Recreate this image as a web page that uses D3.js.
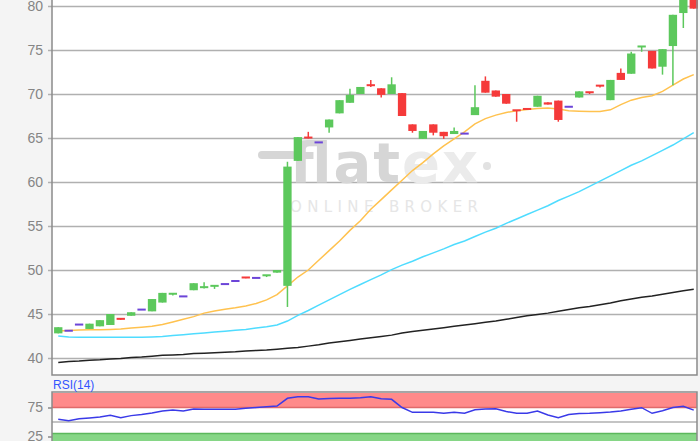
<!DOCTYPE html>
<html>
<head>
<meta charset="utf-8">
<script src="https://cdn.jsdelivr.net/npm/d3@7"></script>
<style>
  body { margin: 0; background: #f4f4f4; }
  svg { display: block; }
</style>
</head>
<body>
<div id="chart"></div>
<script>
// daily candles
const opens = [42.8, 43.1, 43.8, 43.3, 43.6, 43.75, 44.45, 44.8, 45.5, 45.3, 46.3, 47.1, 47.0, 47.7, 47.9, 48.0, 48.4, 48.75, 49.15, 49.1,
  49.2, 49.7, 48.2, 62.4, 65.05, 64.5, 66.2, 67.8, 69.0, 70.0, 71.0, 70.65, 70.0, 70.1, 66.55, 64.9, 66.55, 65.7, 65.45, 65.5,
  67.6, 71.5, 70.4, 70.0, 68.15, 68.3, 68.55, 69.05, 69.25, 68.55, 69.6, 70.2, 70.95, 69.3, 72.4, 72.3, 75.3, 74.9, 73.1, 75.45,
  79.2, 81.5]
const closes = [43.5, 43.1, 43.8, 43.9, 44.3, 45.0, 44.35, 45.2, 45.5, 46.7, 47.4, 47.3, 47.0, 48.5, 48.05, 48.2, 48.4, 48.75, 49.05, 49.1,
  49.4, 50.0, 61.75, 65.1, 64.95, 64.5, 67.1, 69.3, 69.9, 70.8, 70.8, 69.9, 71.1, 67.5, 65.8, 65.8, 65.6, 65.2, 65.8, 65.5,
  68.5, 70.15, 69.7, 68.9, 68.05, 68.2, 69.8, 68.8, 67.05, 68.55, 70.3, 70.0, 70.75, 71.6, 71.6, 74.6, 75.4, 72.9, 75.1, 79.0,
  82.0, 79.7]
const highs = [43.5, 43.1, 43.8, 43.9, 44.3, 45.0, 44.45, 45.2, 45.5, 46.7, 47.4, 47.3, 47.0, 48.5, 48.6, 48.2, 48.4, 48.75, 49.15, 49.1,
  49.4, 50.0, 62.3, 65.1, 65.7, 64.5, 67.1, 69.3, 70.6, 70.8, 71.6, 70.65, 71.9, 70.1, 66.55, 65.8, 66.55, 65.7, 66.2, 65.5,
  71.0, 72.0, 70.4, 70.0, 68.15, 68.3, 69.8, 69.05, 69.25, 68.55, 70.3, 70.2, 70.95, 71.6, 72.9, 74.8, 75.4, 74.9, 75.1, 79.0,
  82.5, 81.5]
const lows = [42.8, 43.1, 43.8, 43.3, 43.6, 43.75, 44.35, 44.8, 45.5, 45.3, 46.3, 47.1, 47.0, 47.7, 47.9, 47.85, 48.4, 48.75, 49.05, 49.1,
  49.2, 49.7, 45.8, 62.4, 64.95, 64.5, 65.6, 67.8, 69.0, 70.0, 70.8, 69.6, 70.0, 67.5, 65.6, 64.9, 65.3, 64.9, 65.45, 65.5,
  67.6, 70.15, 69.7, 68.9, 66.85, 68.2, 68.55, 68.8, 66.85, 68.55, 69.6, 70.0, 70.75, 69.3, 71.6, 72.3, 74.8, 72.9, 72.2, 71.0,
  77.5, 79.7]

// moving averages
const maShort = [43.07, 43.12, 43.18, 43.2, 43.22, 43.25, 43.3, 43.4, 43.5, 43.6, 43.8, 44.1, 44.4, 44.7, 45.1, 45.35, 45.55, 45.7, 45.9, 46.2,
  46.6, 47.2, 48.2, 49.2, 50.0, 51.1, 52.2, 53.3, 54.5, 55.6, 56.9, 58.0, 59.1, 60.2, 61.3, 62.2, 63.2, 64.1, 64.9, 65.7,
  66.6, 67.2, 67.6, 67.9, 68.1, 68.25, 68.35, 68.4, 68.3, 68.1, 68.05, 68.0, 68.0, 68.2, 68.8, 69.3, 69.6, 69.8, 70.3, 71.0,
  71.7, 72.2]
const maMid = [42.5, 42.4, 42.35, 42.35, 42.35, 42.35, 42.35, 42.35, 42.35, 42.4, 42.45, 42.55, 42.65, 42.75, 42.85, 42.95, 43.05, 43.15, 43.25, 43.4,
  43.55, 43.75, 44.2, 44.85, 45.4, 46.0, 46.6, 47.2, 47.8, 48.35, 48.9, 49.45, 50.05, 50.55, 51.0, 51.5, 51.95, 52.4, 52.9, 53.3,
  53.8, 54.3, 54.75, 55.3, 55.8, 56.3, 56.8, 57.3, 57.9, 58.4, 58.9, 59.5, 60.1, 60.7, 61.3, 61.9, 62.4, 63.0, 63.6, 64.2,
  64.9, 65.6]
const maLong = [39.5, 39.6, 39.65, 39.75, 39.8, 39.9, 39.95, 40.05, 40.1, 40.2, 40.3, 40.35, 40.4, 40.5, 40.55, 40.6, 40.65, 40.7, 40.8, 40.85,
  40.9, 41.0, 41.1, 41.2, 41.35, 41.5, 41.7, 41.85, 42.0, 42.15, 42.3, 42.45, 42.6, 42.85, 43.0, 43.15, 43.3, 43.45, 43.6, 43.75,
  43.9, 44.05, 44.2, 44.4, 44.6, 44.8, 44.95, 45.1, 45.3, 45.5, 45.7, 45.85, 46.05, 46.25, 46.5, 46.7, 46.9, 47.05, 47.25, 47.45,
  47.65, 47.8]

const rsi = [54.7, 52.2, 55.5, 57.0, 58.5, 61.5, 57.4, 61.0, 63.0, 65.5, 69.0, 70.7, 69.0, 72.4, 72.0, 71.9, 71.9, 72.0, 73.5, 75.0,
  76.5, 77.6, 90.9, 93.4, 93.6, 89.5, 90.7, 90.9, 90.9, 92.0, 93.6, 90.0, 89.1, 75.0, 66.7, 66.7, 66.7, 65.0, 66.7, 65.0,
  71.0, 72.4, 73.0, 68.0, 65.0, 65.0, 69.0, 62.0, 57.4, 63.0, 64.5, 65.0, 66.0, 67.2, 69.0, 72.0, 74.7, 65.0, 69.5, 75.0,
  77.0, 70.5]

const priceTicks = [40, 45, 50, 55, 60, 65, 70, 75, 80]
const rsiTicks = [75, 25]
const rsiHigh = [75, 100]
const rsiLow = [0, 30]

const width = 700
const height = 441
const left = 52
const right = 697
const mainBottom = 375
const rsiTop = 392

const svg = d3.select('#chart').append('svg').attr('width', width).attr('height', height)

svg.append('rect').attr('width', width).attr('height', height).attr('fill', '#f4f4f4')
svg.append('rect').attr('x', left).attr('y', 0).attr('width', right - left).attr('height', mainBottom).attr('fill', '#fff')
svg.append('rect').attr('x', left).attr('y', rsiTop).attr('width', right - left).attr('height', height - rsiTop).attr('fill', '#fff')

const x = d3.scaleBand()
  .domain(d3.range(opens.length))
  .range([left, 700])
  .padding(0.2)
const cx = i => x(i) + x.bandwidth() / 2

const y = d3.scaleLinear().domain([40, 80]).range([358, 6])

// grid + labels
const yAxis = svg.append('g')
  .attr('transform', `translate(${left - 4},0)`)
  .call(d3.axisLeft(y).tickValues(priceTicks).tickSize(-(right - left + 4)).tickPadding(5))
yAxis.select('.domain').remove()
yAxis.selectAll('line').attr('stroke', '#b0b0b0').attr('stroke-width', 1.5)
yAxis.selectAll('text')
  .attr('fill', '#858585')
  .style('font', '14px "Liberation Sans", Arial, sans-serif')

// watermark
const wm = svg.append('g').attr('pointer-events', 'none')
wm.append('rect').attr('x', 258).attr('y', 151).attr('width', 38).attr('height', 8).attr('rx', 4).attr('fill', '#d6d6d6')
const logo = wm.append('text')
  .attr('x', 290).attr('y', 182)
  .attr('textLength', 188).attr('lengthAdjust', 'spacing')
  .style('font', 'bold 56px "DejaVu Sans", sans-serif')
logo.append('tspan').attr('fill', '#d6d6d6').text('flat')
logo.append('tspan').attr('fill', '#ebebeb').text('ex')
wm.append('circle').attr('cx', 487).attr('cy', 166).attr('r', 4).attr('fill', '#e2e2e2')
wm.append('text')
  .attr('x', 290).attr('y', 212)
  .attr('textLength', 188).attr('lengthAdjust', 'spacing')
  .attr('fill', '#e6e6e6')
  .style('font', '15px "DejaVu Sans", sans-serif')
  .text('ONLINE BROKER')

// moving averages
const maLine = d3.line().x((d, i) => cx(i)).y(d => y(d))
svg.append('path').datum(maLong).attr('d', maLine).attr('fill', 'none').attr('stroke', '#222').attr('stroke-width', 1.5)
svg.append('path').datum(maMid).attr('d', maLine).attr('fill', 'none').attr('stroke', '#4fdcff').attr('stroke-width', 1.5)
svg.append('path').datum(maShort).attr('d', maLine).attr('fill', 'none').attr('stroke', '#ffc24f').attr('stroke-width', 1.5)

// candles
const candles = opens.map((o, i) => ({ i: i, o: o, c: closes[i], h: highs[i], l: lows[i] }))
const colorOf = d => d.c > d.o ? '#5cc85c' : d.c < d.o ? '#f53a3a' : '#6c45d8'

const cg = svg.append('g').selectAll('g').data(candles).join('g')
cg.append('line')
  .attr('x1', d => cx(d.i)).attr('x2', d => cx(d.i))
  .attr('y1', d => y(d.h)).attr('y2', d => y(d.l))
  .attr('stroke', colorOf).attr('stroke-width', 1.5)
cg.append('rect')
  .attr('x', d => x(d.i))
  .attr('width', x.bandwidth())
  .attr('y', d => Math.min(y(d.o), y(d.c)) - (Math.abs(y(d.o) - y(d.c)) < 2 ? 1 : 0))
  .attr('height', d => Math.max(2, Math.abs(y(d.o) - y(d.c))))
  .attr('fill', colorOf)

// frame
svg.append('path')
  .attr('d', `M${left},0V${mainBottom}H${right}V0`)
  .attr('fill', 'none').attr('stroke', '#8a8a8a').attr('stroke-width', 1.5)

// RSI panel
const ry = d3.scaleLinear().domain([0, 100]).range([451, 393])

svg.append('rect')
  .attr('x', left).attr('width', right - left)
  .attr('y', ry(rsiHigh[1])).attr('height', ry(rsiHigh[0]) - ry(rsiHigh[1]))
  .attr('fill', '#ff8a8a')
svg.append('line').attr('x1', left).attr('x2', right).attr('y1', ry(rsiHigh[0])).attr('y2', ry(rsiHigh[0]))
  .attr('stroke', '#e06a6a').attr('stroke-width', 1.5)
svg.append('rect')
  .attr('x', left).attr('width', right - left)
  .attr('y', ry(rsiLow[1])).attr('height', ry(rsiLow[0]) - ry(rsiLow[1]))
  .attr('fill', '#86d686')
svg.append('line').attr('x1', left).attr('x2', right).attr('y1', ry(rsiLow[1])).attr('y2', ry(rsiLow[1]))
  .attr('stroke', '#5cb85c').attr('stroke-width', 1.5)
svg.append('line').attr('x1', left).attr('x2', right).attr('y1', ry(50)).attr('y2', ry(50))
  .attr('stroke', '#b0b0b0').attr('stroke-width', 1.5)

const rAxis = svg.append('g')
  .attr('transform', `translate(${left},0)`)
  .call(d3.axisLeft(ry).tickValues(rsiTicks).tickSize(4).tickPadding(5))
rAxis.select('.domain').remove()
rAxis.selectAll('line').attr('stroke', '#8a8a8a').attr('stroke-width', 1.5)
rAxis.selectAll('text')
  .attr('fill', '#858585')
  .style('font', '14px "Liberation Sans", Arial, sans-serif')

svg.append('path').datum(rsi)
  .attr('d', d3.line().x((d, i) => cx(i)).y(d => ry(d)))
  .attr('fill', 'none').attr('stroke', '#3a3ae8').attr('stroke-width', 1.5)

svg.append('path')
  .attr('d', `M${left},${height}V${rsiTop}H${right}V${height}`)
  .attr('fill', 'none').attr('stroke', '#8a8a8a').attr('stroke-width', 1.5)

svg.append('text')
  .attr('x', left + 1).attr('y', rsiTop - 3)
  .attr('fill', '#3355ff')
  .style('font', '12px "Liberation Sans", Arial, sans-serif')
  .text('RSI(14)')
</script>
</body>
</html>
